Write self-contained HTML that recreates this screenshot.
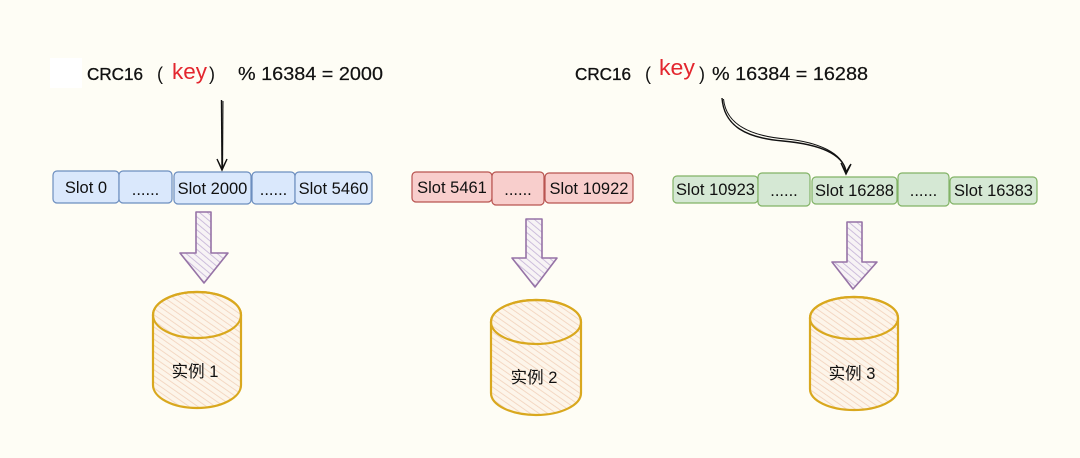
<!DOCTYPE html>
<html>
<head>
<meta charset="utf-8">
<style>
  html, body { margin: 0; padding: 0; background: #fefdf5; }
  svg { display: block; }
  text { font-family: "Liberation Sans", "Noto Sans CJK SC", sans-serif; }
</style>
</head>
<body>
<svg width="1080" height="458" viewBox="0 0 1080 458" xmlns="http://www.w3.org/2000/svg">
  <defs>
    <pattern id="hPurple" patternUnits="userSpaceOnUse" width="5" height="5" patternTransform="rotate(-50)">
      <rect width="5" height="5" fill="#f7f3f5"/>
      <line x1="0" y1="0" x2="0" y2="5" stroke="#c6b4d8" stroke-width="1.7"/>
    </pattern>
    <pattern id="hOrange" patternUnits="userSpaceOnUse" width="5" height="5" patternTransform="rotate(-55)">
      <rect width="5" height="5" fill="#fdf5ea"/>
      <line x1="0" y1="0" x2="0" y2="5" stroke="#f2d3bd" stroke-width="1.7"/>
    </pattern>
  </defs>

  <rect x="0" y="0" width="1080" height="458" fill="#fefdf5"/>

  <!-- white patch -->
  <rect x="50" y="58" width="32" height="30" fill="#ffffff"/>

  <!-- Label 1 -->
  <text x="87" y="80" font-size="17.5" fill="#111" stroke="#111" stroke-width="0.35" textLength="56" lengthAdjust="spacingAndGlyphs">CRC16</text>
  <text x="157" y="80" font-size="18" fill="#111">(</text>
  <text x="172" y="79" font-size="22" fill="#e3262e" textLength="35" lengthAdjust="spacingAndGlyphs">key</text>
  <text x="209" y="80" font-size="18" fill="#111">)</text>
  <text x="238" y="80" font-size="18.5" fill="#111" stroke="#111" stroke-width="0.2" textLength="145" lengthAdjust="spacingAndGlyphs">% 16384 = 2000</text>

  <!-- Label 2 -->
  <text x="575" y="80" font-size="17.5" fill="#111" stroke="#111" stroke-width="0.35" textLength="56" lengthAdjust="spacingAndGlyphs">CRC16</text>
  <text x="645" y="80" font-size="18" fill="#111">(</text>
  <text x="659" y="75" font-size="22" fill="#e3262e" textLength="36" lengthAdjust="spacingAndGlyphs">key</text>
  <text x="699" y="80" font-size="18" fill="#111">)</text>
  <text x="712" y="80" font-size="18.5" fill="#111" stroke="#111" stroke-width="0.2" textLength="156" lengthAdjust="spacingAndGlyphs">% 16384 = 16288</text>

  <!-- Black arrow 1 (straight) -->
  <path d="M221.5,100 L222,168" stroke="#111" stroke-width="1.4" fill="none"/>
  <path d="M223,101 L222.6,167" stroke="#111" stroke-width="1" fill="none"/>
  <path d="M217,159 L222,170 L227,159" stroke="#111" stroke-width="1.4" fill="none"/>
  <path d="M218,161 L222,169 L226,161" stroke="#111" stroke-width="1" fill="none"/>

  <!-- Black arrow 2 (curved) -->
  <path d="M722,98 C724,126 746,138 783,141 C816,144 842,152 846,171" stroke="#111" stroke-width="1.4" fill="none"/>
  <path d="M723.5,99 C726,124 750,136 786,139 C818,142 843,153 845.5,171" stroke="#111" stroke-width="1" fill="none"/>
  <path d="M841,163 L846,174 L851,164" stroke="#111" stroke-width="1.4" fill="none"/>
  <path d="M842,165 L846,172 L850,165" stroke="#111" stroke-width="1" fill="none"/>

  <!-- Blue slots -->
  <g fill="#dae8fc" stroke="#6c8ebf" stroke-width="1.2">
    <rect x="53" y="171" width="66" height="32" rx="4"/>
    <rect x="119" y="171" width="53" height="32" rx="4"/>
    <rect x="174" y="172" width="77" height="32" rx="4"/>
    <rect x="252" y="172" width="43" height="32" rx="4"/>
    <rect x="295" y="172" width="77" height="32" rx="4"/>
  </g>
  <g font-size="16.5" fill="#111" text-anchor="middle">
    <text x="86" y="193">Slot 0</text>
    <text x="145.5" y="195">......</text>
    <text x="212.5" y="194">Slot 2000</text>
    <text x="273.5" y="195">......</text>
    <text x="333.5" y="194">Slot 5460</text>
  </g>

  <!-- Pink slots -->
  <g fill="#f8cecc" stroke="#b85450" stroke-width="1.2">
    <rect x="412" y="172" width="80" height="30" rx="4"/>
    <rect x="492" y="172" width="52" height="33" rx="4"/>
    <rect x="545" y="173" width="88" height="30" rx="4"/>
  </g>
  <g font-size="16.5" fill="#111" text-anchor="middle">
    <text x="452" y="193">Slot 5461</text>
    <text x="518" y="195">......</text>
    <text x="589" y="194">Slot 10922</text>
  </g>

  <!-- Green slots -->
  <g fill="#d5e8d4" stroke="#82b366" stroke-width="1.2">
    <rect x="673" y="176" width="85" height="27" rx="4"/>
    <rect x="758" y="173" width="52" height="33" rx="4"/>
    <rect x="812" y="177" width="85" height="27" rx="4"/>
    <rect x="898" y="173" width="51" height="33" rx="4"/>
    <rect x="950" y="177" width="87" height="27" rx="4"/>
  </g>
  <g font-size="16.5" fill="#111" text-anchor="middle">
    <text x="715.5" y="195">Slot 10923</text>
    <text x="784" y="196">......</text>
    <text x="854.5" y="196">Slot 16288</text>
    <text x="923.5" y="196">......</text>
    <text x="993.5" y="196">Slot 16383</text>
  </g>

  <!-- Block arrows -->
  <g fill="url(#hPurple)" stroke="#9673a6" stroke-width="1.6" stroke-linejoin="round">
    <path d="M196,212 L211,212 L211,253 L228,253 L204,283 L180,253 L196,253 Z"/>
    <path d="M526,219 L542,219 L542,258 L557,258 L535,287 L512,258 L526,258 Z"/>
    <path d="M847,222 L862,222 L862,262 L877,262 L853,289 L832,262 L847,262 Z"/>
  </g>

  <!-- Cylinders -->
  <g stroke="#d9a81e" stroke-width="2.2" fill="url(#hOrange)">
    <!-- cyl 1 -->
    <path d="M153,315 L153,385 A44,23 0 0 0 241,385 L241,315 A44,23 0 0 0 153,315 Z"/>
    <ellipse cx="197" cy="315" rx="44" ry="23" fill="none"/>
    <!-- cyl 2 -->
    <path d="M491,322 L491,393 A45,22 0 0 0 581,393 L581,322 A45,22 0 0 0 491,322 Z"/>
    <ellipse cx="536" cy="322" rx="45" ry="22" fill="none"/>
    <!-- cyl 3 -->
    <path d="M810,318 L810,389 A44,21 0 0 0 898,389 L898,318 A44,21 0 0 0 810,318 Z"/>
    <ellipse cx="854" cy="318" rx="44" ry="21" fill="none"/>
  </g>
  <g font-size="16.5" fill="#111" text-anchor="middle">
    <text x="195" y="377">实例 1</text>
    <text x="534" y="383">实例 2</text>
    <text x="852" y="379">实例 3</text>
  </g>
</svg>
</body>
</html>
